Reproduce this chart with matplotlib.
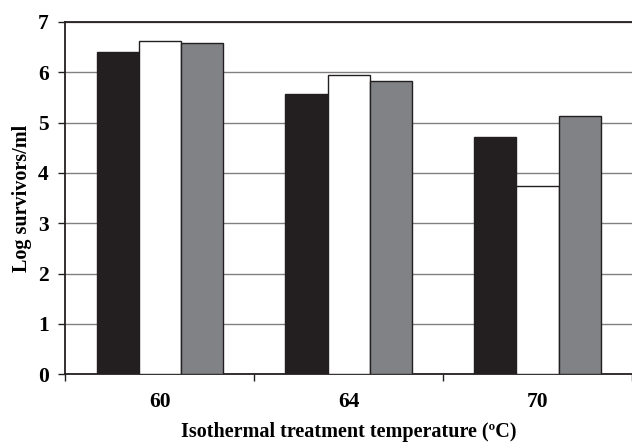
import numpy as np
import matplotlib.pyplot as plt

# values
temps = ['60', '64', '70']
series_a = [6.40, 5.57, 4.71]   # black bars
series_b = [6.63, 5.94, 3.75]   # white bars
series_c = [6.59, 5.82, 5.14]   # grey bars

plt.rcParams['font.family'] = ['Liberation Serif', 'DejaVu Serif']
plt.rcParams['font.weight'] = 'bold'

fig = plt.figure(figsize=(6.32, 4.44), dpi=100)
ax = fig.add_axes([65.3 / 632, 69.7 / 444, 1 - 65.3 / 632, 352.3 / 444])

x = np.arange(len(temps))
w = 0.223
ax.bar(x - w, series_a, w, color='#231f20', edgecolor='#231f20', linewidth=1, zorder=3)
ax.bar(x, series_b, w, color='white', edgecolor='#231f20', linewidth=1, zorder=3)
ax.bar(x + w, series_c, w, color='#808285', edgecolor='#231f20', linewidth=1, zorder=3)

ax.set_ylim(0, 7)
ax.set_xlim(-0.5, 2.483)
ax.set_yticks(range(8))
ax.yaxis.grid(True, color='#808080', linewidth=1, zorder=0)
ax.set_axisbelow(True)

# category labels centred, ticks at the group boundaries
ax.set_xticks(x)
ax.set_xticklabels(temps)
ax.tick_params(axis='x', which='major', length=0, pad=13, labelsize=15.5)
ax.set_xticks([-0.5, 0.5, 1.5, 2.5], minor=True)
ax.tick_params(axis='x', which='minor', length=5, width=1, direction='out', color='#231f20')
ax.tick_params(axis='y', length=5, width=1, direction='out', color='#231f20', labelsize=15.5, pad=7)

for side in ['left', 'bottom', 'top']:
    ax.spines[side].set_linewidth(1.3)
    ax.spines[side].set_color('#231f20')
ax.spines['right'].set_visible(False)

ax.set_ylabel('Log survivors/ml', fontsize=14.5, fontweight='bold', labelpad=4)
ax.set_xlabel('Isothermal treatment temperature (ºC)', fontsize=14.5, fontweight='bold', labelpad=7)

plt.savefig('out.png', dpi=100)
